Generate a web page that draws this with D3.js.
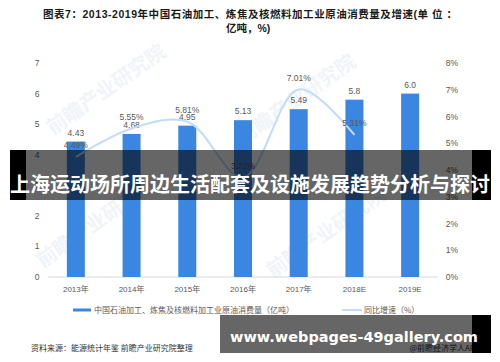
<!DOCTYPE html>
<html lang="zh">
<head>
<meta charset="UTF-8">
<title>原油消费量及增速</title>
<style>
  body { margin: 0; background: #fff; }
  svg { display: block; }
  text { font-family: "Liberation Sans", "Noto Sans CJK SC", sans-serif; }
  .cjk { font-family: "Noto Sans CJK SC", sans-serif; }
</style>
</head>
<body>
<svg id="chart" width="500" height="362"></svg>
<script src="https://d3js.org/d3.v7.min.js"></script>
<script>
// data
const years = ['2013年', '2014年', '2015年', '2016年', '2017年', '2018E', '2019E'];
const consumption = [4.43, 4.68, 4.95, 5.13, 5.49, 5.8, 6.0];   // 亿吨
const growth = [4.49, 5.55, 5.81, 3.72, 7.01, 5.31, null];      // %
const leftTicks = [0, 1, 2, 3, 4, 5, 6, 7];
const rightTicks = [0, 1, 2, 3, 4, 5, 6, 7, 8];

const svg = d3.select('#chart');
const grey = '#595959';

// faint watermarks
const marks = [[110, 95], [300, 105], [100, 228], [330, 238]];
marks.forEach(([x, y]) => {
  svg.append('text')
    .attr('class', 'cjk')
    .attr('transform', `translate(${x},${y}) rotate(-35)`)
    .attr('text-anchor', 'middle')
    .attr('font-size', 20)
    .attr('font-weight', 'bold')
    .attr('fill', '#f0f4f9')
    .text('前瞻产业研究院');
});

// title
svg.append('text')
  .attr('x', 43).attr('y', 18)
  .attr('font-size', 10.5).attr('font-weight', 'bold').attr('fill', '#1a1a1a')
  .attr('textLength', 414).attr('lengthAdjust', 'spacing')
  .text('图表7：2013-2019年中国石油加工、炼焦及核燃料加工业原油消费量及增速(单 位 ：');
svg.append('text')
  .attr('x', 226).attr('y', 32)
  .attr('font-size', 10.5).attr('font-weight', 'bold').attr('fill', '#1a1a1a')
  .text('亿吨，%)');

// scales
const x = d3.scalePoint().domain(years).range([48, 438]).padding(0.5);
const yL = d3.scaleLinear().domain([0, 7]).range([277, 63]);
const yR = d3.scaleLinear().domain([0, 8]).range([277, 63]);
const barW = 18;

// axis tick labels
svg.selectAll('.lt').data(leftTicks).enter().append('text')
  .attr('x', 37).attr('y', d => yL(d) + 3)
  .attr('text-anchor', 'middle').attr('font-size', 8.5).attr('fill', grey)
  .text(d => d);
svg.selectAll('.rt').data(rightTicks).enter().append('text')
  .attr('x', 452).attr('y', d => yR(d) + 3)
  .attr('text-anchor', 'middle').attr('font-size', 8.5).attr('fill', grey)
  .text(d => d + '%');

// x axis
svg.append('line')
  .attr('x1', 48).attr('x2', 438).attr('y1', yL(0)).attr('y2', yL(0))
  .attr('stroke', '#d9d9d9');
svg.selectAll('.xl').data(years).enter().append('text')
  .attr('x', d => x(d)).attr('y', 292)
  .attr('text-anchor', 'middle').attr('font-size', 8).attr('fill', grey)
  .text(d => d);

// bars
svg.selectAll('.bar').data(consumption).enter().append('rect')
  .attr('x', (d, i) => x(years[i]) - barW / 2)
  .attr('y', d => yL(d))
  .attr('width', barW)
  .attr('height', d => yL(0) - yL(d))
  .attr('fill', '#3a86e0');
svg.selectAll('.bl').data(consumption).enter().append('text')
  .attr('x', (d, i) => x(years[i])).attr('y', d => yL(d) - 6)
  .attr('text-anchor', 'middle').attr('font-size', 8.5).attr('fill', grey)
  .text(d => d.toFixed(d === 5.8 || d === 6 ? 1 : 2));

// growth line
const pts = growth.map((g, i) => [x(years[i]), g]).filter(p => p[1] !== null);
svg.append('path')
  .datum(pts)
  .attr('fill', 'none').attr('stroke', '#c3dbf7').attr('stroke-width', 2)
  .attr('d', d3.line().x(p => p[0]).y(p => yR(p[1])).curve(d3.curveCatmullRom));
svg.selectAll('.gl').data(pts).enter().append('text')
  .attr('x', p => p[0]).attr('y', p => yR(p[1]) - 8.5)
  .attr('text-anchor', 'middle').attr('font-size', 8.5).attr('fill', grey)
  .text(p => p[1].toFixed(2) + '%');

// legend
svg.append('rect').attr('x', 73).attr('y', 308.5).attr('width', 18).attr('height', 3).attr('fill', '#3a86e0');
svg.append('text').attr('class', 'cjk').attr('x', 94).attr('y', 313)
  .attr('font-size', 8).attr('fill', grey)
  .text('中国石油加工、炼焦及核燃料加工业原油消费量（亿吨）');
svg.append('line').attr('x1', 342).attr('x2', 362).attr('y1', 310).attr('y2', 310)
  .attr('stroke', '#c3dbf7').attr('stroke-width', 2);
svg.append('text').attr('class', 'cjk').attr('x', 364).attr('y', 313)
  .attr('font-size', 8).attr('fill', grey)
  .text('同比增速（%）');

// source
svg.append('text').attr('class', 'cjk').attr('x', 31).attr('y', 351)
  .attr('font-size', 8).attr('fill', '#333')
  .text('资料来源：能源统计年鉴 前瞻产业研究院整理');
svg.append('text').attr('class', 'cjk').attr('x', 480).attr('y', 351)
  .attr('text-anchor', 'end').attr('font-size', 8).attr('fill', '#333')
  .text('@前瞻经济学人APP');

// overlay banner
svg.append('rect').attr('x', 10).attr('y', 150).attr('width', 16).attr('height', 50).attr('fill', '#000');
svg.append('rect').attr('x', 472).attr('y', 150).attr('width', 19).attr('height', 50).attr('fill', '#000');
svg.append('rect').attr('x', 26).attr('y', 150).attr('width', 446).attr('height', 50).attr('fill', 'rgba(0,0,0,0.6)');
svg.append('text').attr('class', 'cjk').attr('x', 10).attr('y', 192)
  .attr('font-size', 20).attr('font-weight', 'bold').attr('fill', '#fff')
  .text('上海运动场所周边生活配套及设施发展趋势分析与探讨');

// bottom site banner
svg.append('rect').attr('x', 220).attr('y', 315).attr('width', 252).attr('height', 38).attr('fill', 'rgba(0,0,0,0.6)');
svg.append('rect').attr('x', 472).attr('y', 315).attr('width', 19).attr('height', 38).attr('fill', '#000');
svg.append('text').attr('x', 230).attr('y', 342)
  .style('font-family', '"DejaVu Sans", sans-serif')
  .attr('font-size', 14.5).attr('font-weight', 'bold').attr('fill', '#fff')
  .text('www.webpages-49gallery.com');
</script>
</body>
</html>
